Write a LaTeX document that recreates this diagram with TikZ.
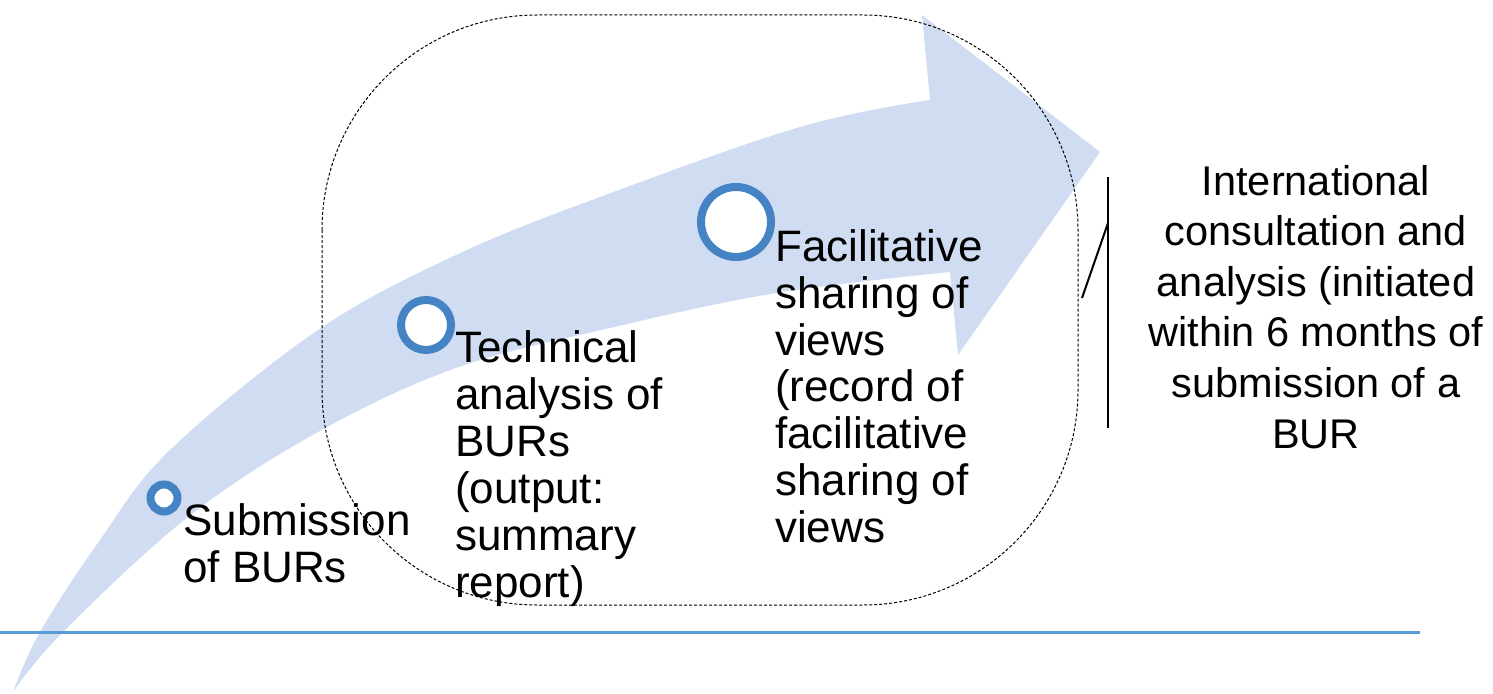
\documentclass[tikz,border=0pt]{standalone}
\usepackage{fontspec}
\setmainfont{Liberation Sans}
\usetikzlibrary{positioning,shadows}

\definecolor{bandblue}{HTML}{CFDCF1}
\definecolor{ringblue}{HTML}{4683C5}
\definecolor{lineblue}{HTML}{5B9BD5}

\tikzset{
  ring/.style={circle, draw=ringblue, fill=white, line width=8pt, inner sep=0pt,
    drop shadow={opacity=0.25, shadow xshift=0pt, shadow yshift=-2pt}},
  steptext/.style={font={\fontsize{44}{47}\selectfont}, align=left, anchor=base west, inner sep=0pt},
  icatext/.style={font={\fontsize{41.5}{50.6}\selectfont}, align=center, anchor=base, inner sep=0pt}
}

\begin{document}
\begin{tikzpicture}[x=1pt,y=-1pt]
  \useasboundingbox (0,0) rectangle (1493,693);

  % big curved arrow
  \fill[bandblue] plot[smooth, tension=0.6] coordinates {(13,692) (40,632) (100,540) (170,450) (318,330) (456,255) (600,197) (800,127) (930,100)}
    -- (922,15) -- (1100,152) -- (958,355) -- (950,272)
    -- plot[smooth, tension=0.6] coordinates {(950,272) (776,293) (610,328) (456,368) (318,432) (188,517) (63,632) (13,692)} -- cycle;

  \draw[dash pattern=on 3pt off 2pt, line width=1pt, rounded corners=215pt] (322,15) rectangle (1078,605);

  \draw[lineblue, line width=3pt] (0,632) -- (1420,632);

  %% (text nodes are placed at the baseline of their last line)

  \node[ring, minimum size=27pt] (c1) at (164,498) {};
  \node[steptext] (t1) at (183,582) {Submission\\of BURs};

  \node[ring, minimum size=50pt] (c2) at (426,325) {};
  \node[steptext] (t2) at (455,597) {Technical\\analysis of\\BURs\\(output:\\summary\\report)};

  \node[ring, minimum size=70pt] (c3) at (736,222) {};
  \node[steptext, font={\fontsize{44}{46.7}\selectfont}] (t3) at (775,542) {Facilitative\\sharing of\\views\\(record of\\facilitative\\sharing of\\views};

  %%

  \node[icatext] (ica) at (1316,448) {International\\consultation and\\analysis (initiated\\within 6 months of\\submission of a\\BUR};

  \draw[line width=2pt] (1108,177) -- (1108,428);
  \draw[line width=2pt] (1082,298) -- (1108,223);

\end{tikzpicture}
\end{document}
